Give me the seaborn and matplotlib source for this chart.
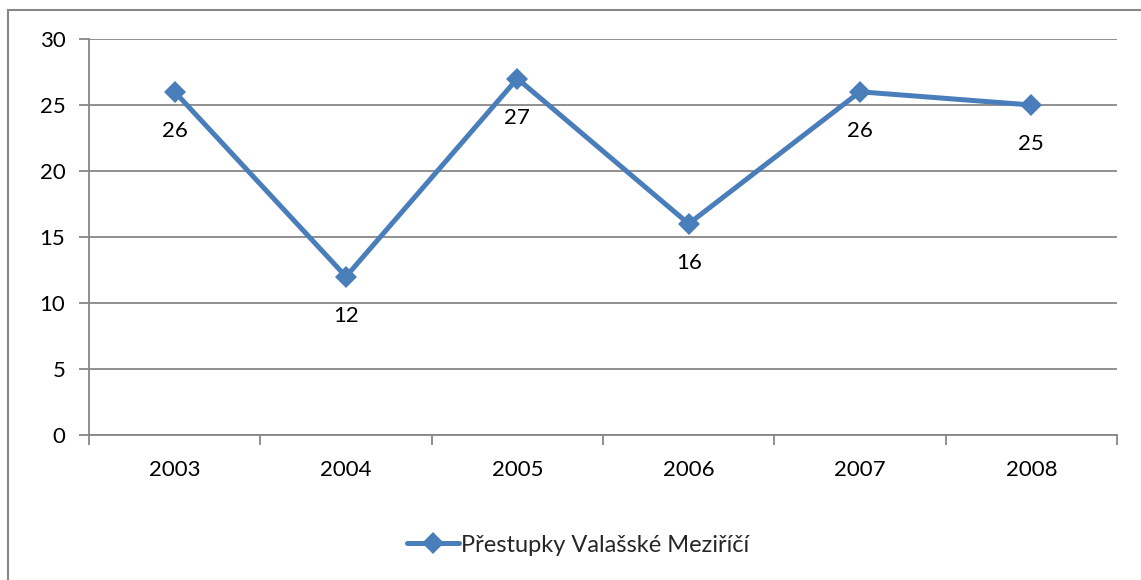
import matplotlib
matplotlib.use("Agg")
import matplotlib.pyplot as plt
import matplotlib.patches as mpatches
import numpy as np
import pandas as pd
import seaborn as sns

# data
years = ["2003", "2004", "2005", "2006", "2007", "2008"]
offences = [26, 12, 27, 16, 26, 25]
series_name = "Přestupky Valašské Meziříčí"

LINE = "#4A7EBB"
GRID = "#878787"

sns.set_theme(style="white")
plt.rcParams["font.family"] = ["Lato", "DejaVu Sans"]

df = pd.DataFrame({"year": years, "count": offences})

fig = plt.figure(figsize=(11.41, 5.80), dpi=100)
ax = fig.add_axes([89 / 1141, 1 - 435 / 580, (1117 - 89) / 1141, (435 - 39) / 580])

sns.lineplot(data=df, x="year", y="count", ax=ax, color=LINE, lw=3.6,
             marker="D", markersize=11, markeredgewidth=0, label=series_name,
             legend=False)

# point labels below markers
for i, v in enumerate(df["count"]):
    ax.annotate(str(v), (i, v), xytext=(0, -39), textcoords="offset pixels",
                ha="center", va="center", fontsize=16, color="black")

ax.set_ylim(0, 30)
ax.set_yticks(np.arange(0, 31, 5))
ax.set_xlim(-0.5, len(years) - 0.5)
ax.set_xticks(range(len(years)))
ax.set_xticklabels(years)
ax.set_xticks(np.arange(-0.5, len(years), 1), minor=True)
ax.set_xlabel("")
ax.set_ylabel("")

ax.yaxis.grid(True, color=GRID, lw=1.3)
ax.set_axisbelow(True)
for side in ["top", "right"]:
    ax.spines[side].set_visible(False)
for side in ["left", "bottom"]:
    ax.spines[side].set_color(GRID)
    ax.spines[side].set_linewidth(1.3)

ax.tick_params(axis="y", which="major", direction="out", length=7, width=1.3,
               color=GRID, left=True, labelsize=16, pad=10, labelcolor="black")
ax.tick_params(axis="x", which="major", length=0, labelsize=16, pad=18,
               labelcolor="black")
ax.tick_params(axis="x", which="minor", direction="out", length=7, width=1.3,
               color=GRID, bottom=True)

# legend at bottom centre
handles, labels = ax.get_legend_handles_labels()
fig.legend(handles, labels, loc="center", bbox_to_anchor=(578 / 1141, 1 - 545 / 580),
           frameon=False, fontsize=17, handlelength=2.2, handletextpad=0.1,
           markerscale=1.0)

# outer chart frame (clipped at right and bottom like the reference)
frame = mpatches.Rectangle((8 / 1141, -0.1), 1.2, 1.1 - 10 / 580,
                           transform=fig.transFigure, fill=False,
                           edgecolor=GRID, lw=1.5)
fig.patches.append(frame)

fig.savefig("out.png", dpi=100)
